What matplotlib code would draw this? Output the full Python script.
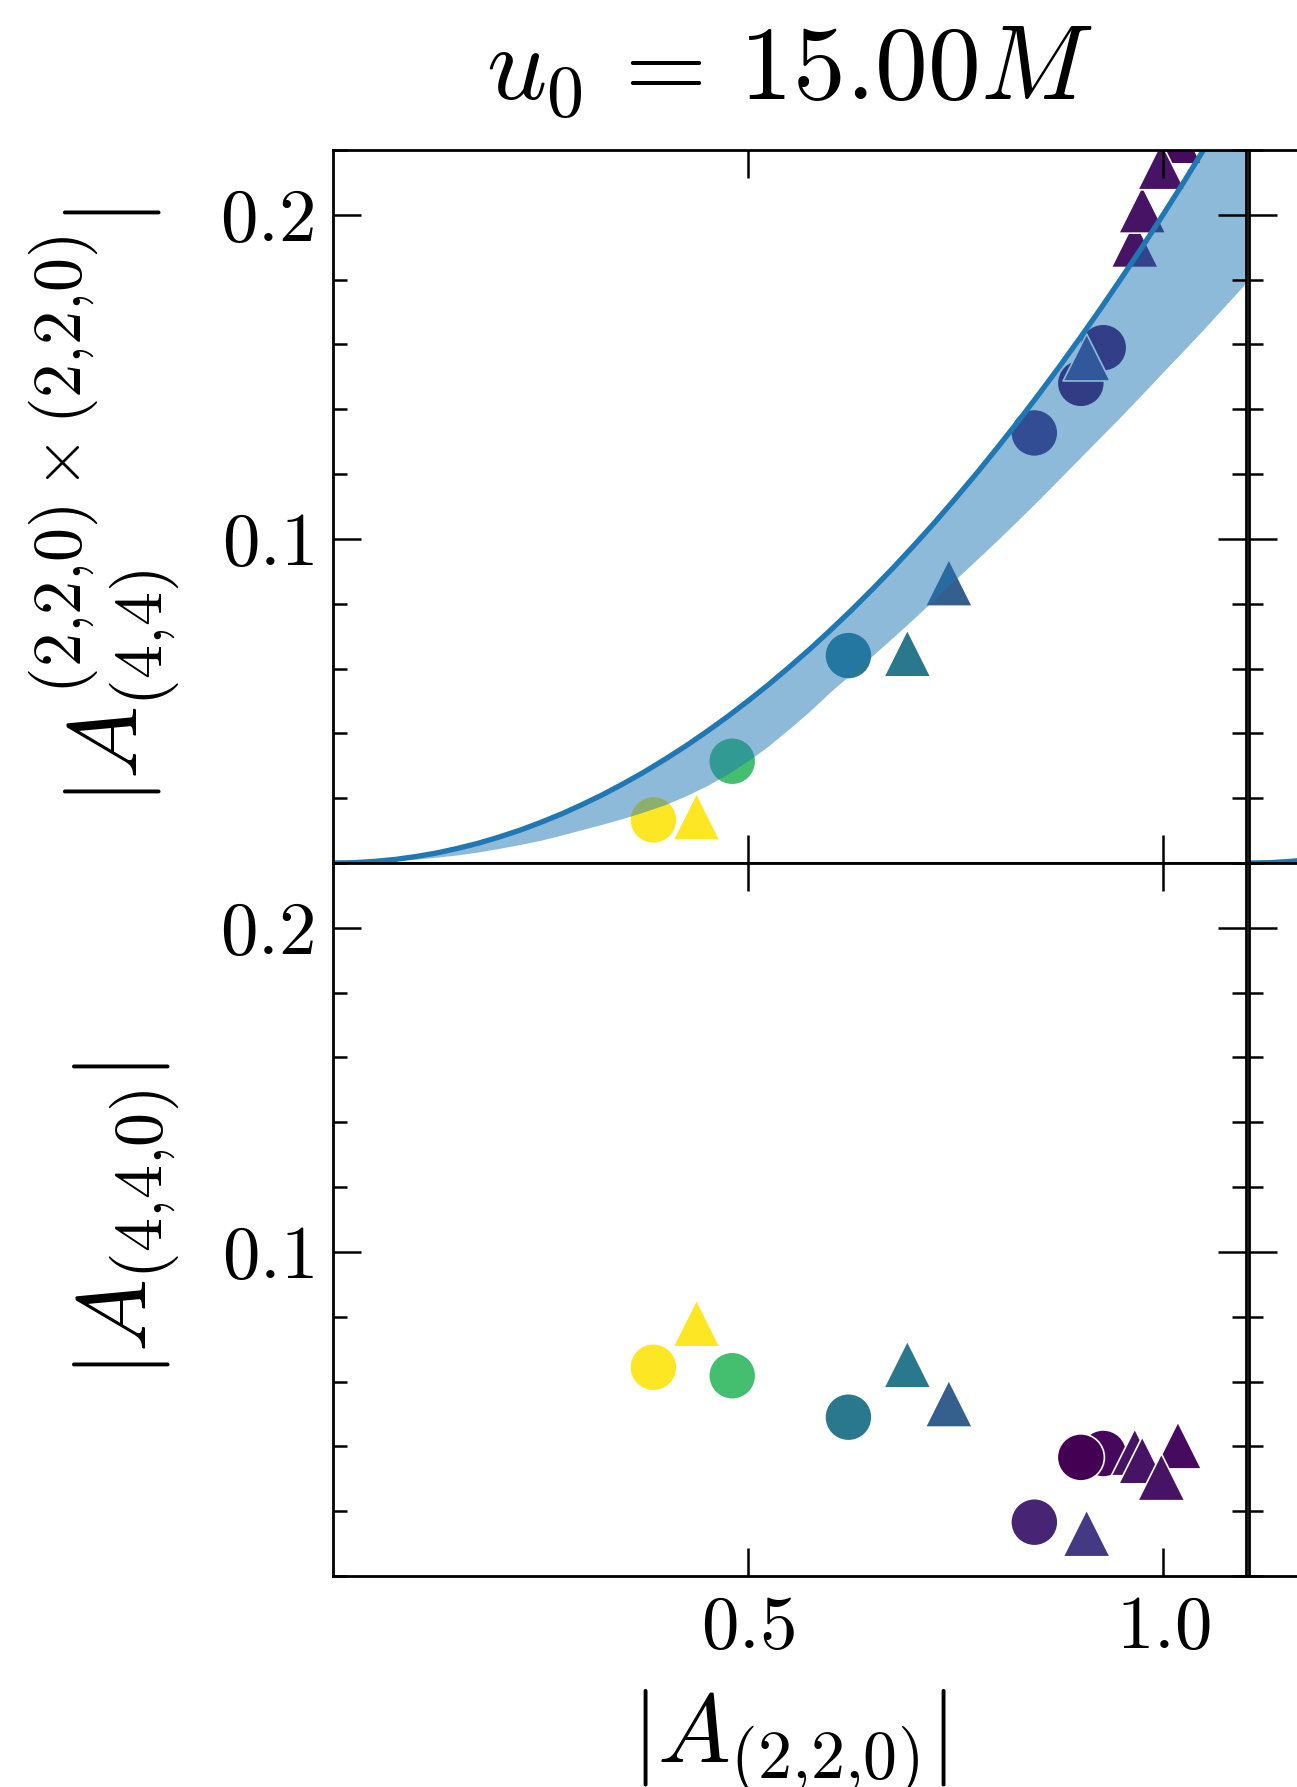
import numpy as np
import matplotlib
matplotlib.use("Agg")
import matplotlib.pyplot as plt
from matplotlib.ticker import MultipleLocator, FixedLocator

plt.rcParams['mathtext.fontset'] = 'cm'
plt.rcParams['font.family'] = 'serif'
plt.rcParams['font.serif'] = ['cmr10', 'DejaVu Serif']
plt.rcParams['axes.formatter.use_mathtext'] = True

# model curve (upper edge) and lower edge of the shaded band
curve_x = [0.0, 0.025, 0.05, 0.075, 0.1, 0.125, 0.15, 0.175, 0.2, 0.225, 0.25,
           0.275, 0.3, 0.325, 0.35, 0.375, 0.4, 0.425, 0.45, 0.475, 0.5, 0.525,
           0.55, 0.575, 0.6, 0.625, 0.65, 0.675, 0.7, 0.725, 0.75, 0.775, 0.8,
           0.825, 0.85, 0.875, 0.9, 0.925, 0.95, 0.975, 1.0, 1.025, 1.05,
           1.075, 1.1]
curve_hi = [0.0, 0.0001, 0.0005, 0.0011, 0.002, 0.0031, 0.0045, 0.0061, 0.008,
            0.0101, 0.0125, 0.0151, 0.018, 0.0211, 0.0245, 0.0281, 0.032,
            0.0361, 0.0405, 0.0451, 0.05, 0.0551, 0.0605, 0.0661, 0.072,
            0.0781, 0.0845, 0.0911, 0.098, 0.1051, 0.1125, 0.1201, 0.128,
            0.1361, 0.1445, 0.1531, 0.162, 0.1711, 0.1805, 0.1901, 0.2, 0.2101,
            0.2205, 0.2311, 0.242]
curve_lo = [0.0, 0.0001, 0.0003, 0.0007, 0.0012, 0.0018, 0.0025, 0.0034,
            0.0045, 0.0057, 0.007, 0.0086, 0.0103, 0.012, 0.0138, 0.0158,
            0.018, 0.0207, 0.0238, 0.0274, 0.0315, 0.0362, 0.0415, 0.047,
            0.053, 0.0585, 0.064, 0.0697, 0.0755, 0.0815, 0.0875, 0.0935,
            0.0995, 0.1057, 0.112, 0.1185, 0.125, 0.1315, 0.138, 0.1447, 0.1515,
            0.1582, 0.165, 0.172, 0.179]

# circles
circ_x = [0.386, 0.481, 0.621, 0.845, 0.928, 0.901]
circ_c = [1.0, 0.7, 0.4, 0.1, 0.02, 0.0]
circ_top = [0.0133, 0.0314, 0.064, 0.1327, 0.159, 0.148]
circ_bot = [0.0644, 0.0618, 0.049, 0.0166, 0.0378, 0.0366]

# triangles
tri_x = [0.438, 0.692, 0.742, 0.908, 0.966, 0.975, 1.018, 0.998]
tri_c = [1.0, 0.4, 0.3, 0.17, 0.05, 0.05, 0.03, 0.05]
tri_top = [0.0143, 0.0647, 0.0865, 0.156, 0.191, 0.2016, 0.223, 0.215]
tri_bot = [0.078, 0.0653, 0.0532, 0.0132, 0.0382, 0.0357, 0.0403, 0.0305]

W, H = 1297, 1787
fig = plt.figure(figsize=(W / 100, H / 100), dpi=100)

left, width = 333 / W, 913 / W
h = 713 / H
ax_top = fig.add_axes([left, (H - 863) / H, width, h])
ax_bot = fig.add_axes([left, (H - 1576) / H, width, h])
# neighbouring column, only its left edge is inside the picture
nb_left = 1249 / W
nb_top = fig.add_axes([nb_left, (H - 863) / H, width, h])
nb_bot = fig.add_axes([nb_left, (H - 1576) / H, width, h])

ms = 1150
for ax, yc, yt in [(ax_top, circ_top, tri_top), (ax_bot, circ_bot, tri_bot)]:
    ax.scatter(circ_x, yc, c=circ_c, cmap='viridis', vmin=0, vmax=1, s=ms,
               marker='o', edgecolors='white', linewidths=1.2)
    ax.scatter(tri_x, yt, c=tri_c, cmap='viridis', vmin=0, vmax=1, s=ms,
               marker='^', edgecolors='white', linewidths=1.2)

ax_top.fill_between(curve_x, curve_lo, curve_hi, color='tab:blue', alpha=0.5,
                    linewidth=0)
ax_top.plot(curve_x, curve_hi, color='tab:blue', lw=3.8)
nb_top.plot(curve_x, curve_hi, color='tab:blue', lw=3.8)

for ax in [ax_top, ax_bot, nb_top, nb_bot]:
    ax.set_xlim(0, 1.1)
    ax.set_ylim(0, 0.22)
    ax.xaxis.set_major_locator(FixedLocator([0.5, 1.0]))
    ax.yaxis.set_major_locator(FixedLocator([0.1, 0.2]))
    ax.yaxis.set_minor_locator(MultipleLocator(0.02))
    ax.tick_params(which='both', direction='in', top=True, right=True,
                   width=1.8, labelsize=54, pad=14)
    ax.tick_params(which='major', length=20)
    ax.tick_params(which='minor', length=10)
    for sp in ax.spines.values():
        sp.set_linewidth(2.0)

ax_top.set_yticklabels([r'$0.1$', r'$0.2$'])
ax_bot.set_yticklabels([r'$0.1$', r'$0.2$'])
ax_bot.set_xticklabels([r'$0.5$', r'$1.0$'])
ax_top.tick_params(labelbottom=False)
for ax in [nb_top, nb_bot]:
    ax.tick_params(labelleft=False, labelbottom=False)

ax_top.set_title(r'$u_0\,=\,15.00M$', fontsize=76, pad=36)
ax_top.set_ylabel(r'$|A^{(2{,}2{,}0)\times(2{,}2{,}0)}_{(4{,}4)}|$', fontsize=70)
ax_bot.set_ylabel(r'$|A_{(4{,}4{,}0)}|$', fontsize=70)
ax_bot.set_xlabel(r'$|A_{(2{,}2{,}0)}|$', fontsize=70)
ax_top.yaxis.set_label_coords(-0.165, 0.5)
ax_bot.yaxis.set_label_coords(-0.165, 0.5)
ax_bot.xaxis.set_label_coords(0.5, -0.156)

fig.savefig('out.png', dpi=100)
